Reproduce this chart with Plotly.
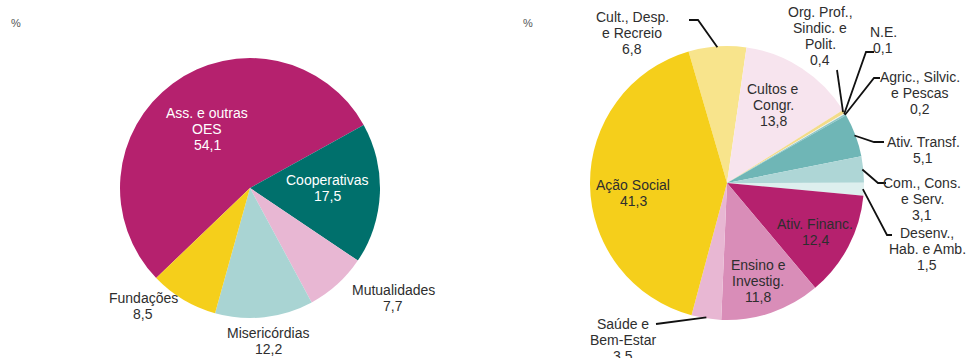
import math
import plotly.graph_objects as go

W, H = 967, 358

# ---------------- data ----------------
left_labels = ["Ass. e outras OES", "Cooperativas", "Mutualidades", "Misericórdias", "Fundações"]
left_values = [54.1, 17.5, 7.7, 12.2, 8.5]
left_colors = ["#B5216E", "#00706C", "#E8B7D3", "#A9D4D3", "#F5CF1B"]

right_labels = ["Cult., Desp. e Recreio", "Cultos e Congr.", "Org. Prof., Sindic. e Polit.", "N.E.",
                "Agric., Silvic. e Pescas", "Ativ. Transf.", "Com., Cons. e Serv.",
                "Desenv., Hab. e Amb.", "Ativ. Financ.", "Ensino e Investig.",
                "Saúde e Bem-Estar", "Ação Social"]
right_values = [6.8, 13.8, 0.4, 0.1, 0.2, 5.1, 3.1, 1.5, 12.4, 11.8, 3.5, 41.3]
right_colors = ["#F8E48C", "#F7E4EE", "#F3DC8A", "#EEEEEE", "#8CC6C6", "#6FB6B6", "#AED6D6",
                "#DDEFEE", "#B5216E", "#D98DB8", "#E8B7D3", "#F5CF1B"]

# ---------------- layout geometry (pixels) ----------------
L_CX, L_CY, L_R, L_ROT = 250, 188, 130, -133.8
R_CX, R_CY, R_R, R_ROT = 727, 183, 137, -16.3


def dom(cx, cy, r):
    return dict(x=[(cx - r) / W, (cx + r) / W], y=[1 - (cy + r) / H, 1 - (cy - r) / H])


def px(x, y):
    return x / W, 1 - y / H


fig = go.Figure()
fig.add_trace(go.Pie(labels=left_labels, values=left_values, sort=False, direction="clockwise",
                     rotation=L_ROT, marker=dict(colors=left_colors, line=dict(width=0)),
                     textinfo="none", hoverinfo="label+value", showlegend=False,
                     domain=dom(L_CX, L_CY, L_R)))
fig.add_trace(go.Pie(labels=right_labels, values=right_values, sort=False, direction="clockwise",
                     rotation=R_ROT, marker=dict(colors=right_colors, line=dict(width=0)),
                     textinfo="none", hoverinfo="label+value", showlegend=False,
                     domain=dom(R_CX, R_CY, R_R)))

annotations = []
shapes = []
DARK = "#2E2E2E"
FONT = "Liberation Sans, Arial, sans-serif"


def fmt(v):
    return f"{v:.1f}".replace(".", ",")


def add_label(lines, x, y0, color, step=16, size=14):
    for i, t in enumerate(lines):
        xp, yp = px(x, y0 + i * step)
        annotations.append(dict(text=t, x=xp, y=yp, xref="paper", yref="paper",
                                xanchor="center", yanchor="middle", showarrow=False,
                                font=dict(family=FONT, size=size, color=color)))


def edge_point(values, idx, cx, cy, r, rot):
    tot = sum(values)
    before = sum(values[:idx])
    frac = (before + values[idx] / 2) / tot
    a = math.radians(rot + 360 * frac)
    return cx + r * math.sin(a), cy - r * math.cos(a)


def leader(points_px, values, idx):
    ex, ey = edge_point(values, idx, R_CX, R_CY, R_R - 1, R_ROT)
    pts = list(points_px) + [(ex, ey)]
    path = "M " + " L ".join(f"{x / W},{1 - y / H}" for x, y in pts)
    shapes.append(dict(type="path", path=path, xref="paper", yref="paper",
                       line=dict(color="#111111", width=1.8)))


# left pie labels
add_label(["Ass. e outras", "OES", fmt(left_values[0])], 207, 113, "white")
add_label(["Cooperativas", fmt(left_values[1])], 327, 180, "white")
add_label(["Mutualidades", fmt(left_values[2])], 393, 290, DARK)
add_label(["Misericórdias", fmt(left_values[3])], 268, 333, DARK)
add_label(["Fundações", fmt(left_values[4])], 143, 298, DARK)

# right pie labels
rv = right_values
add_label(["Cult., Desp.", "e Recreio", fmt(rv[0])], 632, 17, DARK)
add_label(["Cultos e", "Congr.", fmt(rv[1])], 773, 89, DARK)
add_label(["Org. Prof.,", "Sindic. e", "Polit.", fmt(rv[2])], 820, 12, DARK)
add_label(["N.E.", fmt(rv[3])], 883, 32, DARK)
add_label(["Agric., Silvic.", "e Pescas", fmt(rv[4])], 920, 77, DARK)
add_label(["Ativ. Transf.", fmt(rv[5])], 923, 142, DARK)
add_label(["Com., Cons.", "e Serv.", fmt(rv[6])], 922, 183, DARK)
add_label(["Desenv.,", "Hab. e Amb.", fmt(rv[7])], 927, 233, DARK)
add_label(["Ativ. Financ.", fmt(rv[8])], 815, 224, DARK)
add_label(["Ensino e", "Investig.", fmt(rv[9])], 758, 265, DARK)
add_label(["Saúde e", "Bem-Estar", fmt(rv[10])], 623, 324, DARK)
add_label(["Ação Social", fmt(rv[11])], 633, 185, DARK)

# leader lines
leader([(689, 20), (698, 20)], rv, 0)
leader([(837, 70)], rv, 2)
leader([(874, 52), (866, 52)], rv, 3)
leader([(880, 78), (874, 78)], rv, 4)
leader([(884, 142), (874, 142)], rv, 5)
leader([(886, 183), (878, 183)], rv, 6)
leader([(892, 235), (887, 235)], rv, 7)
leader([(656, 324)], rv, 10)

# percent signs
for x in (16, 528):
    xp, yp = px(x, 23)
    annotations.append(dict(text="%", x=xp, y=yp, xref="paper", yref="paper",
                            xanchor="center", yanchor="middle", showarrow=False,
                            font=dict(family=FONT, size=11, color="#555555")))

fig.update_layout(width=W, height=H, margin=dict(l=0, r=0, t=0, b=0),
                  paper_bgcolor="white", plot_bgcolor="white",
                  annotations=annotations, shapes=shapes)

fig.write_html("out.html")
